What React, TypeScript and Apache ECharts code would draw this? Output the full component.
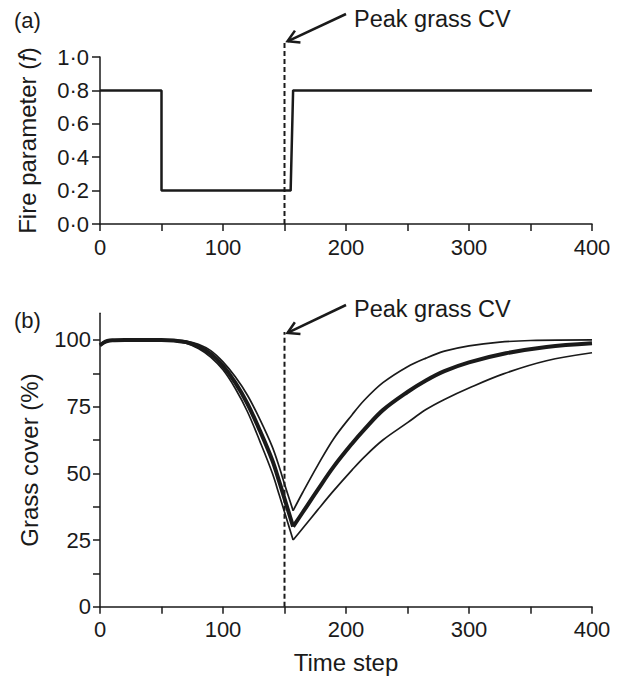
import React, { useEffect, useRef } from "react";
import * as echarts from "echarts";

// ---------- data ----------
const xTickLabels = ["0", "100", "200", "300", "400"];
const fTickLabels = ["0·0", "0·2", "0·4", "0·6", "0·8", "1·0"];
const grassTickLabels = ["0", "25", "50", "75", "100"];
const grassTickValues = [0, 12.5, 25, 37.5, 50, 62.5, 75, 87.5, 100];

// fire parameter f over time (step function)
const fireSteps: [number, number][] = [
  [0, 0.8], [50, 0.8], [50, 0.2], [155, 0.2], [157, 0.8], [400, 0.8],
];

const peakCvStep = 150;
const peakLineTopF = 1.1;
const peakLineTopGrass = 103;

// grass cover (%) – mean (thick) and bounds (thin), decline and recovery phases
const meanDecline: [number, number][] = [
  [0, 98], [3, 99], [6, 99.6], [10, 99.9], [20, 100], [50, 100], [60, 99.8], [70, 99.2],
  [80, 97.6], [90, 94.8], [100, 90.3], [110, 84], [120, 76], [130, 66], [140, 55],
  [146, 46.5], [150, 40.5], [157, 30],
];
const upperDecline: [number, number][] = [
  [0, 98.3], [3, 99.3], [6, 99.8], [10, 100], [20, 100], [50, 100], [60, 99.9], [70, 99.6],
  [80, 98.4], [90, 96], [100, 91.8], [110, 86.2], [120, 79.2], [130, 70.2], [140, 60],
  [146, 52], [150, 46], [157, 36],
];
const lowerDecline: [number, number][] = [
  [0, 97.7], [3, 98.7], [6, 99.4], [10, 99.7], [20, 99.9], [50, 99.9], [60, 99.6], [70, 98.8],
  [80, 96.8], [90, 93.6], [100, 88.8], [110, 81.8], [120, 73], [130, 62], [140, 50.2],
  [146, 41.5], [150, 35.5], [157, 25],
];
const upperRecovery: [number, number][] = [
  [157, 36], [165, 43], [177, 53], [190, 63], [205, 72], [215, 77.5], [230, 84],
  [250, 90], [265, 93.2], [280, 95.8], [300, 97.8], [325, 99.2], [350, 99.8], [400, 100],
];
const meanRecovery: [number, number][] = [
  [157, 30], [165, 35.5], [177, 43.8], [190, 52.5], [205, 61.2], [215, 66.5], [230, 73.7],
  [250, 80.5], [265, 84.8], [280, 88.3], [300, 91.6], [330, 95], [363, 97.4], [400, 98.8],
];
const lowerRecovery: [number, number][] = [
  [157, 25], [165, 29.5], [177, 36.3], [190, 43.5], [205, 51.3], [215, 56.2], [230, 62.5],
  [250, 69], [265, 73.9], [280, 77.7], [300, 82], [328, 87.3], [363, 92.2], [400, 95.2],
];

// ---------- style ----------
const FONT = "Liberation Sans, Arial, Helvetica, sans-serif";
const INK = "#1a1a1a";

function arrowHead(tail: number[], head: number[], len: number, angDeg: number) {
  const dx = tail[0] - head[0];
  const dy = tail[1] - head[1];
  const l = Math.hypot(dx, dy);
  const ux = (dx / l) * len;
  const uy = (dy / l) * len;
  const a = (angDeg * Math.PI) / 180;
  const c = Math.cos(a);
  const s = Math.sin(a);
  const p1 = [head[0] + ux * c - uy * s, head[1] + ux * s + uy * c];
  const p2 = [head[0] + ux * c + uy * s, head[1] - ux * s + uy * c];
  return [p1, head, p2];
}

function annotation(tail: number[], head: number[], textX: number, textY: number) {
  return [
    {
      type: "line",
      shape: { x1: tail[0], y1: tail[1], x2: head[0], y2: head[1] },
      style: { stroke: INK, lineWidth: 2.5 },
    },
    {
      type: "polyline",
      shape: { points: arrowHead(tail, head, 13, 30) },
      style: { stroke: INK, lineWidth: 2.5, fill: null },
    },
    {
      type: "text",
      x: textX,
      y: textY,
      style: {
        text: "Peak grass CV",
        fontSize: 23.5,
        fontFamily: FONT,
        fill: INK,
        verticalAlign: "middle",
        align: "left",
      },
    },
  ];
}

export default function App() {
  const ref = useRef<HTMLDivElement>(null);

  useEffect(() => {
    if (!ref.current) return;
    const chart = echarts.init(ref.current, undefined, { renderer: "svg" });

    const axisLine = { show: true, onZero: false, lineStyle: { color: INK, width: 1.5 } };
    const axisTick = { show: true, length: 7, lineStyle: { color: INK, width: 1.5 } };
    const labelStyle = { color: INK, fontSize: 22, fontFamily: FONT };
    const nameStyle = { color: INK, fontSize: 24, fontFamily: FONT };

    const xAxisBase = (gridIndex: number) => ({
      type: "value",
      gridIndex,
      min: 0,
      max: 400,
      interval: 50,
      axisLine,
      axisTick,
      splitLine: { show: false },
      axisLabel: {
        ...labelStyle,
        margin: 12,
        formatter: (v: number) => (v % 100 === 0 ? xTickLabels[v / 100] : ""),
      },
    });

    const grassLine = (data: [number, number][], width: number) => ({
      type: "line",
      xAxisIndex: 1,
      yAxisIndex: 1,
      data,
      showSymbol: false,
      symbol: "none",
      smooth: 0.35,
      lineStyle: { color: INK, width },
      clip: false,
      z: width > 2 ? 3 : 2,
    });

    chart.setOption({
      animation: false,
      backgroundColor: "#ffffff",
      grid: [
        { left: 100, right: 27, top: 57, height: 167 },
        { left: 100, right: 27, top: 313.3, height: 293.4 },
      ],
      xAxis: [
        xAxisBase(0),
        {
          ...xAxisBase(1),
          name: "Time step",
          nameLocation: "middle",
          nameGap: 44,
          nameTextStyle: nameStyle,
        },
      ],
      yAxis: [
        {
          type: "value",
          gridIndex: 0,
          min: 0,
          max: 1,
          interval: 0.2,
          axisLine,
          axisTick: { ...axisTick, length: 8 },
          splitLine: { show: false },
          axisLabel: {
            ...labelStyle,
            margin: 11,
            formatter: (v: number) => fTickLabels[Math.round(v / 0.2)],
          },
          name: "Fire parameter ({it|f})",
          nameLocation: "middle",
          nameGap: 61,
          nameTextStyle: {
            ...nameStyle,
            rich: { it: { fontStyle: "italic", fontSize: 24, fontFamily: FONT, color: INK } },
          },
        },
        {
          type: "value",
          gridIndex: 1,
          min: 0,
          max: 110,
          axisLine,
          axisTick: { ...axisTick, length: 7, customValues: grassTickValues },
          splitLine: { show: false },
          axisLabel: {
            ...labelStyle,
            margin: 9,
            customValues: grassTickLabels.map(Number),
            formatter: (v: number) => String(v),
          },
          name: "Grass cover (%)",
          nameLocation: "middle",
          nameGap: 59,
          nameTextStyle: nameStyle,
        },
      ],
      series: [
        {
          type: "line",
          xAxisIndex: 0,
          yAxisIndex: 0,
          data: fireSteps,
          showSymbol: false,
          symbol: "none",
          lineStyle: { color: INK, width: 2.5 },
          clip: false,
        },
        grassLine(upperDecline, 1.7),
        grassLine(lowerDecline, 1.7),
        grassLine(meanDecline, 4),
        grassLine(upperRecovery, 1.7),
        grassLine(lowerRecovery, 1.7),
        grassLine(meanRecovery, 4),
      ],
    });

    const a0 = chart.convertToPixel({ gridIndex: 0 }, [peakCvStep, 0]) as number[];
    const a1 = chart.convertToPixel({ gridIndex: 0 }, [peakCvStep, peakLineTopF]) as number[];
    const b0 = chart.convertToPixel({ gridIndex: 1 }, [peakCvStep, 0]) as number[];
    const b1 = chart.convertToPixel({ gridIndex: 1 }, [peakCvStep, peakLineTopGrass]) as number[];

    const dashLine = (p: number[], q: number[]) => ({
      type: "line",
      silent: true,
      z: 1,
      shape: { x1: p[0], y1: p[1], x2: q[0], y2: q[1] },
      style: { stroke: INK, lineWidth: 2, lineDash: [5, 3] },
    });

    chart.setOption({
      graphic: [
        dashLine(a0, a1),
        dashLine(b0, b1),
        {
          type: "text",
          x: 14,
          y: 20,
          style: { text: "(a)", fontSize: 22, fontFamily: FONT, fill: INK, verticalAlign: "middle" },
        },
        {
          type: "text",
          x: 14,
          y: 320,
          style: { text: "(b)", fontSize: 22, fontFamily: FONT, fill: INK, verticalAlign: "middle" },
        },
        ...annotation([346, 14], [a1[0] + 3, a1[1] + 1], 354, 19),
        ...annotation([346, 305], [b1[0] + 3, b1[1] + 1], 354, 309),
      ],
    });

    return () => chart.dispose();
  }, []);

  return (
    <div
      ref={ref}
      style={{ position: "absolute", left: 0, top: 0, width: 619, height: 680, background: "#fff" }}
    />
  );
}
